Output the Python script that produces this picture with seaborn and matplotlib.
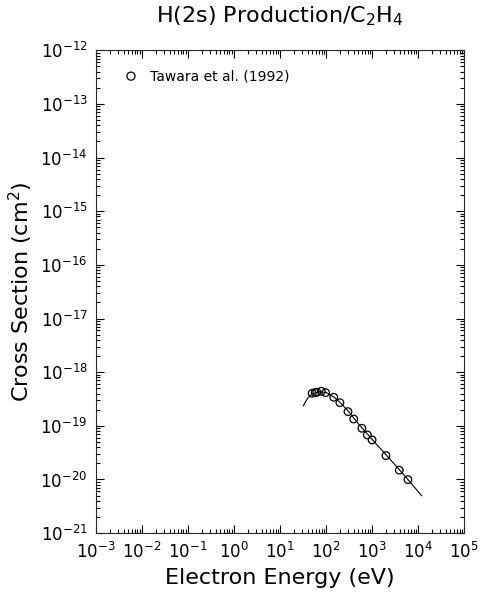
import numpy as np
import pandas as pd
import seaborn as sns
import matplotlib
matplotlib.use("Agg")
import matplotlib.pyplot as plt
from matplotlib.ticker import LogLocator, NullFormatter

# Tawara et al. (1992) measured points (eV, cm^2)
energy = [50, 58, 63, 79, 98, 147, 200, 300, 400, 600, 790, 1000, 2000, 3900, 6000]
sigma = [4.05e-19, 4.15e-19, 4.23e-19, 4.41e-19, 4.15e-19, 3.41e-19, 2.70e-19,
         1.84e-19, 1.34e-19, 9.0e-20, 6.76e-20, 5.46e-20, 2.79e-20, 1.49e-20, 9.95e-21]

# recommended curve
fit_energy = [32, 40, 50, 70, 100, 150, 200, 300, 500, 1000, 2000, 5000, 12000]
fit_sigma = [2.35e-19, 3.3e-19, 3.95e-19, 4.3e-19, 4.2e-19, 3.4e-19, 2.75e-19,
             1.9e-19, 1.1e-19, 5.6e-20, 2.9e-20, 1.2e-20, 4.95e-21]

pts = pd.DataFrame({"E": energy, "sigma": sigma})
fit = pd.DataFrame({"E": fit_energy, "sigma": fit_sigma})

sns.set_style("ticks")
plt.rcParams["font.family"] = ["DejaVu Sans"]
plt.rcParams["axes.linewidth"] = 0.8
plt.rcParams["text.color"] = "black"
plt.rcParams["axes.labelcolor"] = "black"

fig = plt.figure(figsize=(4.84, 5.99), dpi=100)
ax = fig.add_axes([0.198, 0.110, 0.761, 0.806])

sns.lineplot(data=fit, x="E", y="sigma", color="black", linewidth=0.8, ax=ax)
sns.scatterplot(data=pts, x="E", y="sigma", marker="o", s=30, facecolor="none",
                edgecolor="black", linewidth=0.9, ax=ax, zorder=3)

ax.set_xscale("log")
ax.set_yscale("log")
ax.set_xlim(1e-3, 1e5)
ax.set_ylim(1e-21, 1e-12)

ax.set_xticks([10.0**k for k in range(-3, 6)])
ax.set_yticks([10.0**k for k in range(-21, -11)])
ax.xaxis.set_minor_locator(LogLocator(base=10, subs=np.arange(2, 10), numticks=20))
ax.yaxis.set_minor_locator(LogLocator(base=10, subs=np.arange(2, 10), numticks=20))
ax.xaxis.set_minor_formatter(NullFormatter())
ax.yaxis.set_minor_formatter(NullFormatter())

ax.tick_params(which="both", direction="in", top=True, right=True, colors="black", width=0.8)
ax.tick_params(which="major", length=6, labelsize=12, pad=6)
ax.tick_params(which="minor", length=3)

ax.set_xlabel("Electron Energy (eV)", fontsize=16, labelpad=5)
ax.set_ylabel("Cross Section (cm$^2$)", fontsize=16, labelpad=4)
ax.set_title("H(2s) Production/C$_2$H$_4$", fontsize=16, pad=20)

# legend entry drawn inside the axes
ax.scatter([0.0058], [3.3e-13], marker="o", s=34, facecolor="none", edgecolor="black", linewidth=0.9)
ax.text(0.0149, 3.3e-13, "Tawara et al. (1992)", fontsize=10, va="center")

fig.savefig("out.png", dpi=100)
